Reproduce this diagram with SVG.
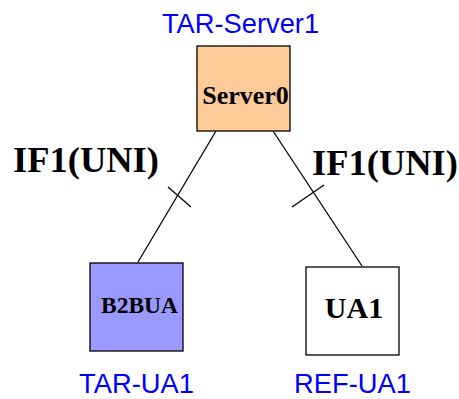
<svg xmlns="http://www.w3.org/2000/svg" width="459" height="399" viewBox="0 0 459 399">
<style>
.box{stroke:#000;stroke-width:1.3}
.lbl{font-family:"Liberation Sans",Arial,sans-serif;font-size:27.3px;fill:#0000FF;text-anchor:middle}
.nt{font-family:"Liberation Serif","Times New Roman",serif;font-weight:bold;fill:#000;text-anchor:middle}
.if{font-family:"Liberation Serif","Times New Roman",serif;font-weight:bold;font-size:36.5px;fill:#000}
.ln{stroke:#000;stroke-width:1.3;fill:none}
</style>
<rect width="459" height="399" fill="#fff"/>
<g id="connectors">
<line class="ln" x1="216" y1="131" x2="138" y2="262"/>
<line class="ln" x1="168" y1="187" x2="191" y2="207"/>
<line class="ln" x1="273" y1="131" x2="362" y2="266"/>
<line class="ln" x1="292" y1="207" x2="324" y2="185"/>
</g>
<g id="if-left"><text class="if" x="13" y="172">IF1(UNI)</text></g>
<g id="if-right"><text class="if" x="312" y="175">IF1(UNI)</text></g>
<g id="server0">
<rect class="box" x="197" y="46" width="93" height="85" fill="#FFCC99"/>
<text class="nt" x="245.5" y="104" font-size="26">Server0</text>
<text class="lbl" x="240.5" y="33">TAR-Server1</text>
</g>
<g id="b2bua">
<rect class="box" x="90" y="263" width="93" height="88" fill="#9999FF"/>
<text class="nt" x="139.5" y="313" font-size="23.5">B2BUA</text>
<text class="lbl" x="136.5" y="393">TAR-UA1</text>
</g>
<g id="ua1">
<rect class="box" x="306" y="267" width="93" height="88" fill="#FFFFFF"/>
<text class="nt" x="354" y="318" font-size="30">UA1</text>
<text class="lbl" x="352.5" y="393">REF-UA1</text>
</g>
</svg>
